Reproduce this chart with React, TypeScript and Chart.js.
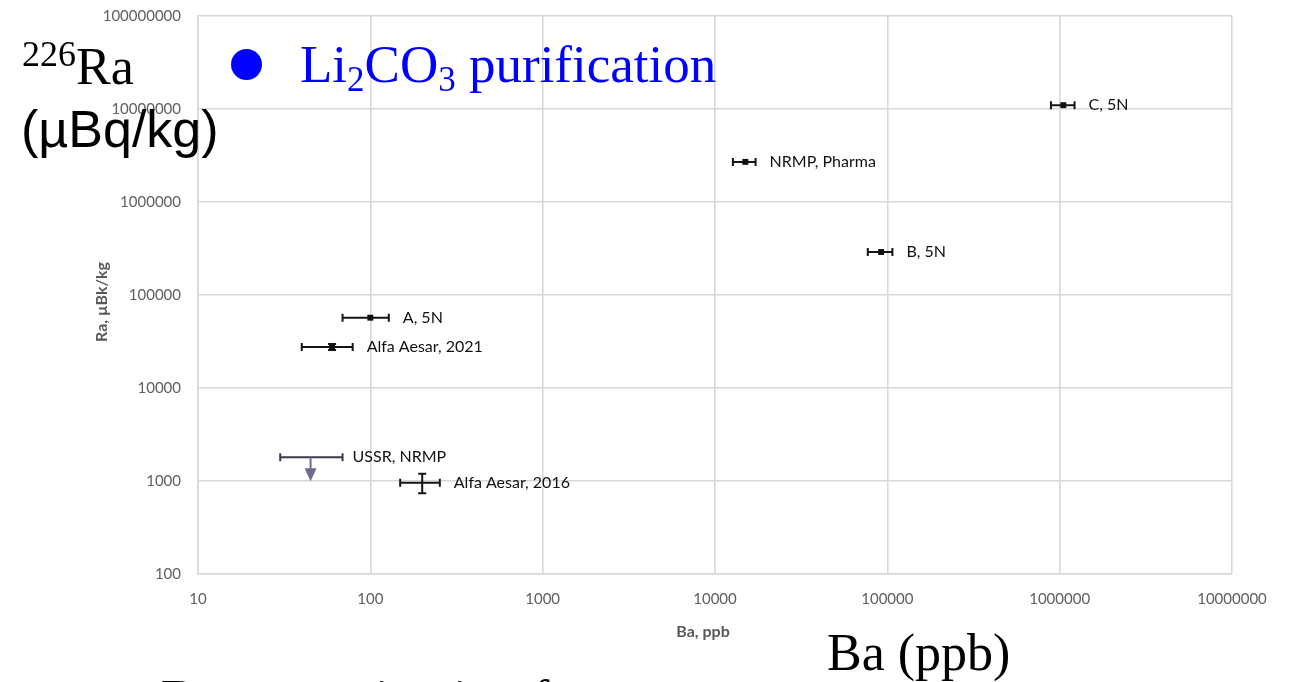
import React, { useEffect, useRef } from 'react';
import { Chart, registerables } from 'chart.js';

Chart.register(...registerables);

// Samples: Ba content (ppb) against 226Ra activity (µBk/kg), log–log
const sampleNames = ['C, 5N', 'NRMP, Pharma', 'B, 5N', 'A, 5N', 'Alfa Aesar, 2021', 'USSR, NRMP', 'Alfa Aesar, 2016'];
const baPpb = [1050000, 15000, 92000, 100, 60, 45, 200];
const baLow = [890000, 12700, 77000, 69, 40, 30, 149];
const baHigh = [1220000, 17200, 107000, 128, 79, 69, 253];
const raActivity = [11000000, 2700000, 290000, 57000, 27600, 1800, 960];
const raLow = [11000000, 2700000, 290000, 57000, 25600, 1800, 740];
const raHigh = [11000000, 2700000, 290000, 57000, 29700, 1800, 1200];
const upperLimit = [false, false, false, false, false, true, false];
const markerShown = [true, true, true, true, true, false, false];

const baTicks = [10, 100, 1000, 10000, 100000, 1000000, 10000000];
const raTicks = [100, 1000, 10000, 100000, 1000000, 10000000, 100000000];

const xTitle = 'Ba, ppb';
const yTitle = 'Ra, µBk/kg';

const TICK_FONT = { family: 'Lato, "Open Sans", sans-serif', size: 15 };
const GRID = '#d8d8d8';

// Error bars, the upper-limit arrow, point labels and axis titles
const errorBarPlugin = {
  id: 'errorBarsAndLabels',
  beforeDatasetsDraw(chart: any) {
    const { ctx, scales } = chart;
    const x = scales.x;
    const y = scales.y;
    ctx.save();
    sampleNames.forEach((_, i) => {
      const px = x.getPixelForValue(baPpb[i]);
      const py = y.getPixelForValue(raActivity[i]);
      const xl = x.getPixelForValue(baLow[i]);
      const xh = x.getPixelForValue(baHigh[i]);
      ctx.strokeStyle = upperLimit[i] ? '#3a3a48' : '#151515';
      ctx.lineWidth = 2;
      ctx.beginPath();
      ctx.moveTo(xl, py);
      ctx.lineTo(xh, py);
      ctx.moveTo(xl, py - 4);
      ctx.lineTo(xl, py + 4);
      ctx.moveTo(xh, py - 4);
      ctx.lineTo(xh, py + 4);
      ctx.stroke();
      if (raHigh[i] > raLow[i]) {
        const yl = y.getPixelForValue(raLow[i]);
        const yh = y.getPixelForValue(raHigh[i]);
        ctx.beginPath();
        ctx.moveTo(px, yl);
        ctx.lineTo(px, yh);
        ctx.moveTo(px - 4, yl);
        ctx.lineTo(px + 4, yl);
        ctx.moveTo(px - 4, yh);
        ctx.lineTo(px + 4, yh);
        ctx.stroke();
      }
      if (upperLimit[i]) {
        ctx.strokeStyle = '#6c6c8a';
        ctx.fillStyle = '#6c6c8a';
        ctx.beginPath();
        ctx.moveTo(px, py);
        ctx.lineTo(px, py + 13);
        ctx.stroke();
        ctx.beginPath();
        ctx.moveTo(px - 6, py + 11);
        ctx.lineTo(px + 6, py + 11);
        ctx.lineTo(px, py + 24);
        ctx.closePath();
        ctx.fill();
      }
    });
    ctx.restore();
  },
  afterDatasetsDraw(chart: any) {
    const { ctx, scales, chartArea } = chart;
    const x = scales.x;
    const y = scales.y;
    ctx.save();
    ctx.font = '16px Lato, "Open Sans", sans-serif';
    ctx.fillStyle = '#111111';
    ctx.textAlign = 'left';
    ctx.textBaseline = 'middle';
    sampleNames.forEach((name, i) => {
      const lx = x.getPixelForValue(baHigh[i]) + (upperLimit[i] ? 10 : 14);
      const ly = y.getPixelForValue(raActivity[i]);
      ctx.fillText(name, lx, ly);
    });
    // axis titles
    ctx.fillStyle = '#595959';
    ctx.font = 'bold 16px Lato, "Open Sans", sans-serif';
    ctx.textAlign = 'center';
    ctx.fillText(xTitle, (chartArea.left + chartArea.right) / 2 - 12, chartArea.bottom + 58);
    ctx.translate(chartArea.left - 96, (chartArea.top + chartArea.bottom) / 2 + 7);
    ctx.rotate(-Math.PI / 2);
    ctx.fillText(yTitle, 0, 0);
    ctx.restore();
  },
};

function RaBaChart() {
  const canvasRef = useRef<HTMLCanvasElement | null>(null);

  useEffect(() => {
    const canvas = canvasRef.current;
    if (!canvas) return;
    const chart = new Chart(canvas, {
      type: 'scatter',
      data: {
        datasets: [
          {
            data: baPpb.map((v, i) => ({ x: v, y: raActivity[i] })),
            pointStyle: 'rect',
            pointRadius: markerShown.map((m) => (m ? 4.2 : 0)),
            pointBackgroundColor: '#111111',
            pointBorderColor: '#111111',
            pointBorderWidth: 0,
            showLine: false,
          },
        ],
      },
      options: {
        responsive: false,
        animation: false,
        events: [],
        layout: { padding: { top: 16, right: 62, bottom: 0, left: 0 } },
        plugins: {
          legend: { display: false },
          tooltip: { enabled: false },
        },
        scales: {
          x: {
            type: 'logarithmic',
            min: 10,
            max: 10000000,
            afterBuildTicks: (scale: any) => {
              scale.ticks = baTicks.map((value) => ({ value }));
            },
            afterFit: (scale: any) => {
              scale.height = 108;
              scale.paddingLeft = 0;
              scale.paddingRight = 0;
            },
            ticks: {
              callback: (v: any) => String(v),
              font: TICK_FONT,
              color: '#5f5f5f',
              padding: 16,
              maxRotation: 0,
              autoSkip: false,
            },
            grid: { color: GRID, lineWidth: 1.6, drawTicks: false },
            border: { color: GRID, width: 1.6 },
          },
          y: {
            type: 'logarithmic',
            min: 100,
            max: 100000000,
            afterBuildTicks: (scale: any) => {
              scale.ticks = raTicks.map((value) => ({ value }));
            },
            afterFit: (scale: any) => {
              scale.width = 198;
              scale.paddingTop = 0;
              scale.paddingBottom = 0;
            },
            ticks: {
              callback: (v: any) => String(v),
              font: TICK_FONT,
              color: '#5f5f5f',
              padding: 17,
              autoSkip: false,
            },
            grid: { color: GRID, lineWidth: 1.6, drawTicks: false },
            border: { color: GRID, width: 1.6 },
          },
        },
      },
      plugins: [errorBarPlugin],
    });
    return () => chart.destroy();
  }, []);

  return (
    <canvas
      ref={canvasRef}
      width={1294}
      height={682}
      style={{ position: 'absolute', left: 0, top: 0, display: 'block' }}
    />
  );
}

const serif = '"Liberation Serif", "Times New Roman", serif';

export default function App() {
  return (
    <div
      style={{
        position: 'absolute',
        left: 0,
        top: 0,
        width: 1294,
        height: 682,
        overflow: 'hidden',
        background: '#ffffff',
      }}
    >
      <RaBaChart />
      <div
        style={{
          position: 'absolute',
          left: 22,
          top: 41,
          fontFamily: serif,
          fontSize: 52,
          lineHeight: '52px',
          color: '#000',
          whiteSpace: 'nowrap',
        }}
      >
        <span style={{ fontSize: 36, position: 'relative', top: -18 }}>226</span>Ra
      </div>
      <div
        style={{
          position: 'absolute',
          left: 21,
          top: 103,
          fontFamily: '"Liberation Sans", Arial, sans-serif',
          fontSize: 52,
          lineHeight: '52px',
          color: '#000',
          whiteSpace: 'nowrap',
        }}
      >
        (µBq/kg)
      </div>
      <div
        style={{
          position: 'absolute',
          left: 231,
          top: 49,
          width: 31,
          height: 31,
          borderRadius: '50%',
          background: '#0000ff',
        }}
      />
      <div
        style={{
          position: 'absolute',
          left: 300,
          top: 38,
          fontFamily: serif,
          fontSize: 53,
          lineHeight: '52px',
          color: '#0000ff',
          whiteSpace: 'nowrap',
        }}
      >
        Li<span style={{ fontSize: 35, position: 'relative', top: 9 }}>2</span>CO
        <span style={{ fontSize: 35, position: 'relative', top: 9 }}>3</span> purification
      </div>
      <div
        style={{
          position: 'absolute',
          left: 827,
          top: 627,
          fontFamily: serif,
          fontSize: 52,
          lineHeight: '52px',
          color: '#000',
          whiteSpace: 'nowrap',
        }}
      >
        Ba (ppb)
      </div>
      <div
        style={{
          position: 'absolute',
          left: 161,
          top: 673,
          fontFamily: serif,
          fontSize: 52,
          lineHeight: '52px',
          color: '#000',
          whiteSpace: 'nowrap',
        }}
      >
        Decontamination factor
      </div>
    </div>
  );
}
